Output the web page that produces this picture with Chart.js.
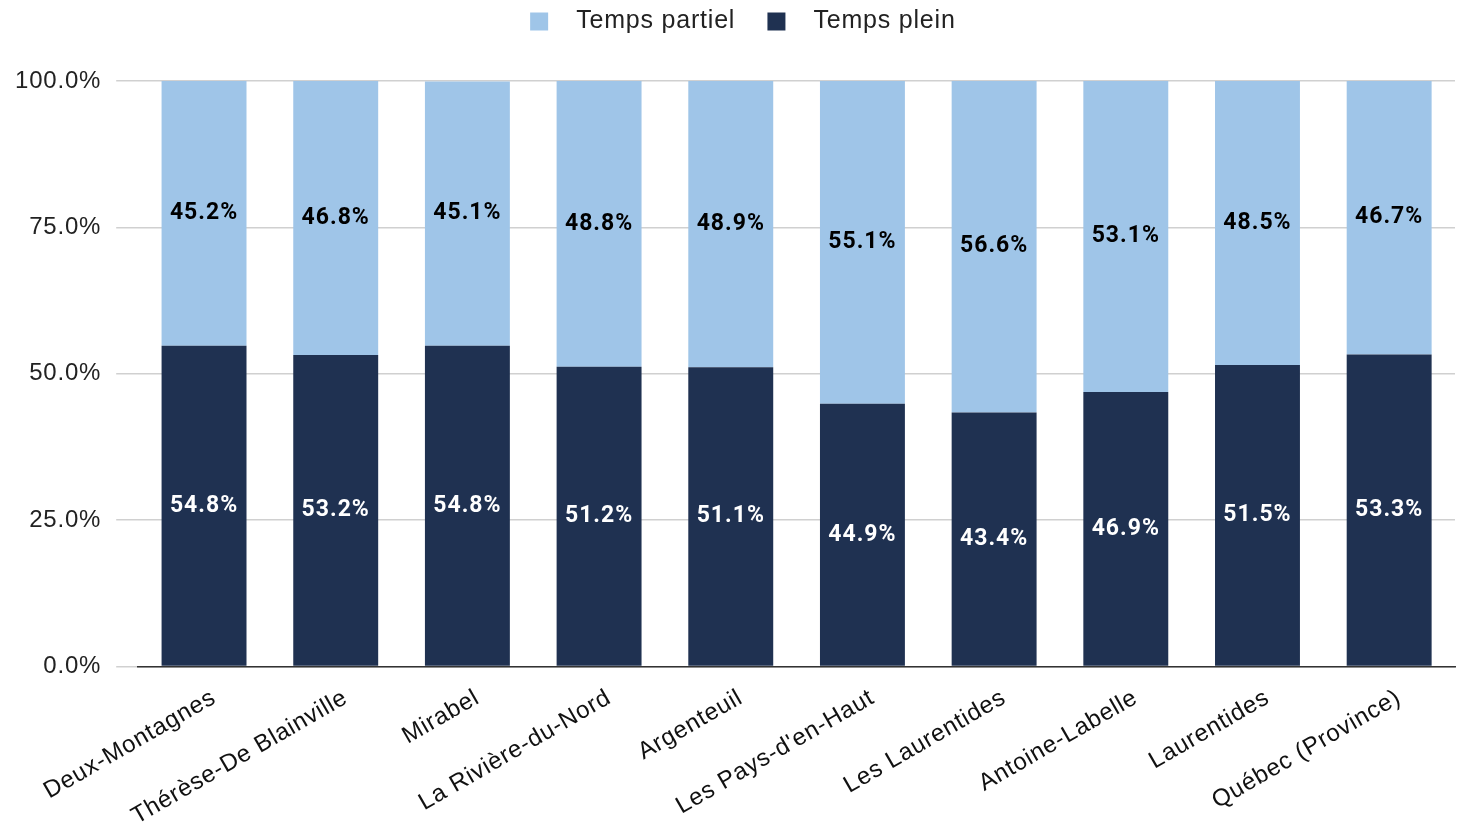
<!DOCTYPE html>
<html>
<head>
<meta charset="utf-8">
<script src="https://cdn.jsdelivr.net/npm/chart.js@4/dist/chart.umd.min.js"></script>
<style>
  html, body { margin: 0; padding: 0; background: #fff; }
  #wrap { width: 1464px; height: 827px; }
</style>
</head>
<body>
<div id="wrap"><canvas id="emploi-chart" width="1464" height="827"></canvas></div>
<script>
var regions = [
  "Deux-Montagnes",
  "Thérèse-De Blainville",
  "Mirabel",
  "La Rivière-du-Nord",
  "Argenteuil",
  "Les Pays-d'en-Haut",
  "Les Laurentides",
  "Antoine-Labelle",
  "Laurentides",
  "Québec (Province)",
];
var tempsPlein = [54.8, 53.2, 54.8, 51.2, 51.1, 44.9, 43.4, 46.9, 51.5, 53.3];
var tempsPartiel = [45.2, 46.8, 45.1, 48.8, 48.9, 55.1, 56.6, 53.1, 48.5, 46.7];
var yTicks = [0, 25, 50, 75, 100];

var SPACING = "0.8px";

// the reference text is set a little wide, so give the canvas some letter spacing
var wideText = {
  id: "wideText",
  beforeLayout: function (chart) {
    chart.ctx.letterSpacing = SPACING;
    // extra room under the legend
    var lg = chart.legend;
    if (lg && !lg._patched) {
      var fit = lg.fit;
      lg.fit = function () {
        fit.call(this);
        this.height += 37;
      };
      lg._patched = true;
    }
  },
  afterLayout: function (chart) {
    // legend sits a bit right of centre in the reference
    chart.legend.left += 27;
    chart.legend.right += 27;
  },
  beforeDraw: function (chart) {
    chart.ctx.letterSpacing = SPACING;
  },
};

// draws the % in the middle of each segment (no datalabels plugin offline)
var segmentLabels = {
  id: "segmentLabels",
  afterDatasetsDraw: function (chart) {
    var ctx = chart.ctx;
    ctx.save();
    ctx.letterSpacing = "1px";
    ctx.font = "bold 23px Roboto";
    ctx.textAlign = "center";
    ctx.textBaseline = "middle";
    chart.data.datasets.forEach(function (ds, i) {
      var meta = chart.getDatasetMeta(i);
      meta.data.forEach(function (bar, j) {
        ctx.fillStyle = ds.labelColor;
        ctx.fillText(ds.data[j].toFixed(1) + "%", bar.x, (bar.y + bar.base) / 2);
      });
    });
    ctx.restore();
  },
};

var emploiChart = new Chart(document.getElementById("emploi-chart"), {
  type: "bar",
  data: {
    labels: regions,
    datasets: [
      {
        label: "Temps plein",
        data: tempsPlein,
        backgroundColor: "#1f3151",
        labelColor: "#ffffff",
      },
      {
        label: "Temps partiel",
        data: tempsPartiel,
        backgroundColor: "#9fc5e8",
        labelColor: "#000000",
      },
    ],
  },
  options: {
    responsive: false,
    animation: false,
    categoryPercentage: 1,
    barPercentage: 0.645,
    layout: { padding: { top: 0, right: 9, left: 0, bottom: -13 } },
    plugins: {
      legend: {
        reverse: true,
        labels: {
          color: "#222",
          font: { family: "Liberation Sans", size: 25 },
          boxWidth: 18,
          boxHeight: 18,
          padding: 9,
          generateLabels: function (chart) {
            var items = Chart.defaults.plugins.legend.labels.generateLabels(chart);
            items.forEach(function (it) {
              it.text = "  " + it.text + "   ";
              it.lineWidth = 0;
            });
            return items;
          },
        },
      },
      tooltip: { enabled: false },
    },
    scales: {
      x: {
        stacked: true,
        grid: { display: false },
        border: { color: "#333", width: 1.5 },
        ticks: {
          color: "#111",
          padding: 9,
          labelOffset: 10,
          font: { family: "Liberation Sans", size: 24 },
          maxRotation: 30,
          minRotation: 30,
          autoSkip: false,
        },
      },
      y: {
        stacked: true,
        min: 0,
        max: 100,
        afterBuildTicks: function (axis) {
          axis.ticks = yTicks.map(function (v) { return { value: v }; });
        },
        grid: { color: "#d0d0d0", lineWidth: 1.5, tickLength: 22 },
        border: { display: false },
        ticks: {
          color: "#222",
          padding: 15,
          font: { family: "Liberation Sans", size: 24 },
          callback: function (v) { return v.toFixed(1) + "%"; },
        },
      },
    },
  },
  plugins: [wideText, segmentLabels],
});
</script>
</body>
</html>
